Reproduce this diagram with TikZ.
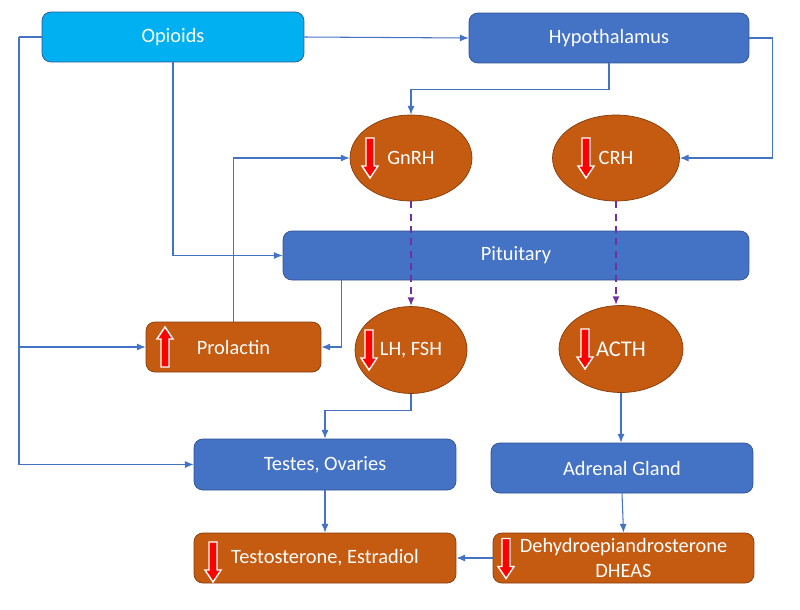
\documentclass[tikz,border=0pt]{standalone}
\usepackage{fontspec}
\setmainfont{Carlito}
\usetikzlibrary{shapes.geometric,arrows.meta,calc}
\definecolor{opiblue}{HTML}{00B0F0}
\definecolor{midblue}{HTML}{4472C4}
\definecolor{darkblue}{HTML}{2F528F}
\definecolor{rust}{HTML}{C55A11}
\definecolor{darkrust}{HTML}{843C0C}
\definecolor{violet}{HTML}{7030A0}
\begin{document}
\begin{tikzpicture}[x=0.02cm,y=-0.02cm,
  font=\fontsize{11.6}{14.2}\selectfont,
  organ/.style={draw=darkblue,fill=midblue,text=white,rounded corners=5pt,inner sep=0pt,minimum width=5.24cm,minimum height=1cm,align=center},
  level/.style={draw=darkrust,fill=rust,text=white,rounded corners=5pt,inner sep=0pt,minimum width=5.24cm,minimum height=1cm,align=center},
  hormone/.style={ellipse,draw=darkrust,fill=rust,text=white,inner sep=0pt,minimum width=2.44cm,minimum height=1.72cm},
  flow/.style={midblue,line width=0.6pt,-{Latex[length=5pt,width=4pt]}},
  relay/.style={violet,dashed,line width=1.1pt,dash pattern=on 4pt off 3pt,-{Latex[length=5pt,width=4pt]}},
  lowarr/.pic={\draw[white,fill=red,line width=0.8pt] (-4,-20) -- (4,-20) -- (4,8) -- (8,8) -- (0,20) -- (-8,8) -- (-4,8) -- cycle;}]
\useasboundingbox (0,0) rectangle (800,609);
\node[organ,fill=opiblue] (opi) at (173,37) {Opioids};
\node[organ,minimum width=5.6cm] (hyp) at (609,38) {Hypothalamus};
\node[hormone] (gnrh) at (411,158) {GnRH};
\node[hormone,minimum width=2.54cm] (crh) at (616,158) {CRH};
\node[organ,minimum width=9.32cm,minimum height=0.98cm] (pit) at (516,255.5) {Pituitary};
\node[level,minimum width=3.5cm] (pro) at (233.5,347) {Prolactin};
\node[hormone,minimum width=2.24cm,minimum height=1.74cm] (lh) at (411,350) {LH, FSH};
\node[hormone,minimum width=2.48cm,minimum height=1.74cm,font=\fontsize{12.8}{15}\selectfont] (acth) at (621,349) {ACTH};
\node[organ,minimum height=1.02cm] (tes) at (325,464.5) {Testes, Ovaries};
\node[organ] (adr) at (622,468) {Adrenal Gland};
\node[level] (tst) at (325,558) {Testosterone, Estradiol};
\node[level,minimum width=5.22cm] (dhe) at (623.5,558) {Dehydroepiandrosterone\\DHEAS};
\coordinate (lft) at (19,37);
\pic at ($(gnrh.center)+(-41,0)$) {lowarr};
\pic at ($(crh.center)+(-30,0)$) {lowarr};
\pic[rotate=180] at ($(pro.center)+(-68.5,0)$) {lowarr};
\pic at ($(lh.center)+(-42,0)$) {lowarr};
\pic at ($(acth.center)+(-36,0)$) {lowarr};
\pic at ($(tst.center)+(-112,4)$) {lowarr};
\pic at ($(dhe.center)+(-117.5,0.5)$) {lowarr};
\draw[flow] (opi.east) -- (hyp.west);
\draw[midblue,line width=0.6pt] (opi.west) -- (lft);
\draw[flow] (lft) |- (pro.west);
\draw[flow] (lft) |- (tes.west);
\draw[flow] (opi.south) |- (pit.west);
\draw[flow] (hyp.south) -- ++(0,26) -| (gnrh.north);
\draw[flow] (hyp.east) -- ++(23,0) |- (crh.east);
\draw[flow] (pro.north) |- (gnrh.west);
\draw[flow] ($(pit.south west)+(59,0)$) |- (pro.east);
\draw[relay] (gnrh.south) -- (lh.north);
\draw[relay] (crh.south) -- (crh.south |- acth.north);
\draw[flow] (lh.south) -- ++(0,17) -| (tes.north);
\draw[flow] (acth.south) -- (acth.south |- adr.north);
\draw[flow] (tes.south) -- (tst.north);
\draw[flow] (adr.south) -- (dhe.north);
\draw[flow] (dhe.west) -- (tst.east);
\end{tikzpicture}
\end{document}
